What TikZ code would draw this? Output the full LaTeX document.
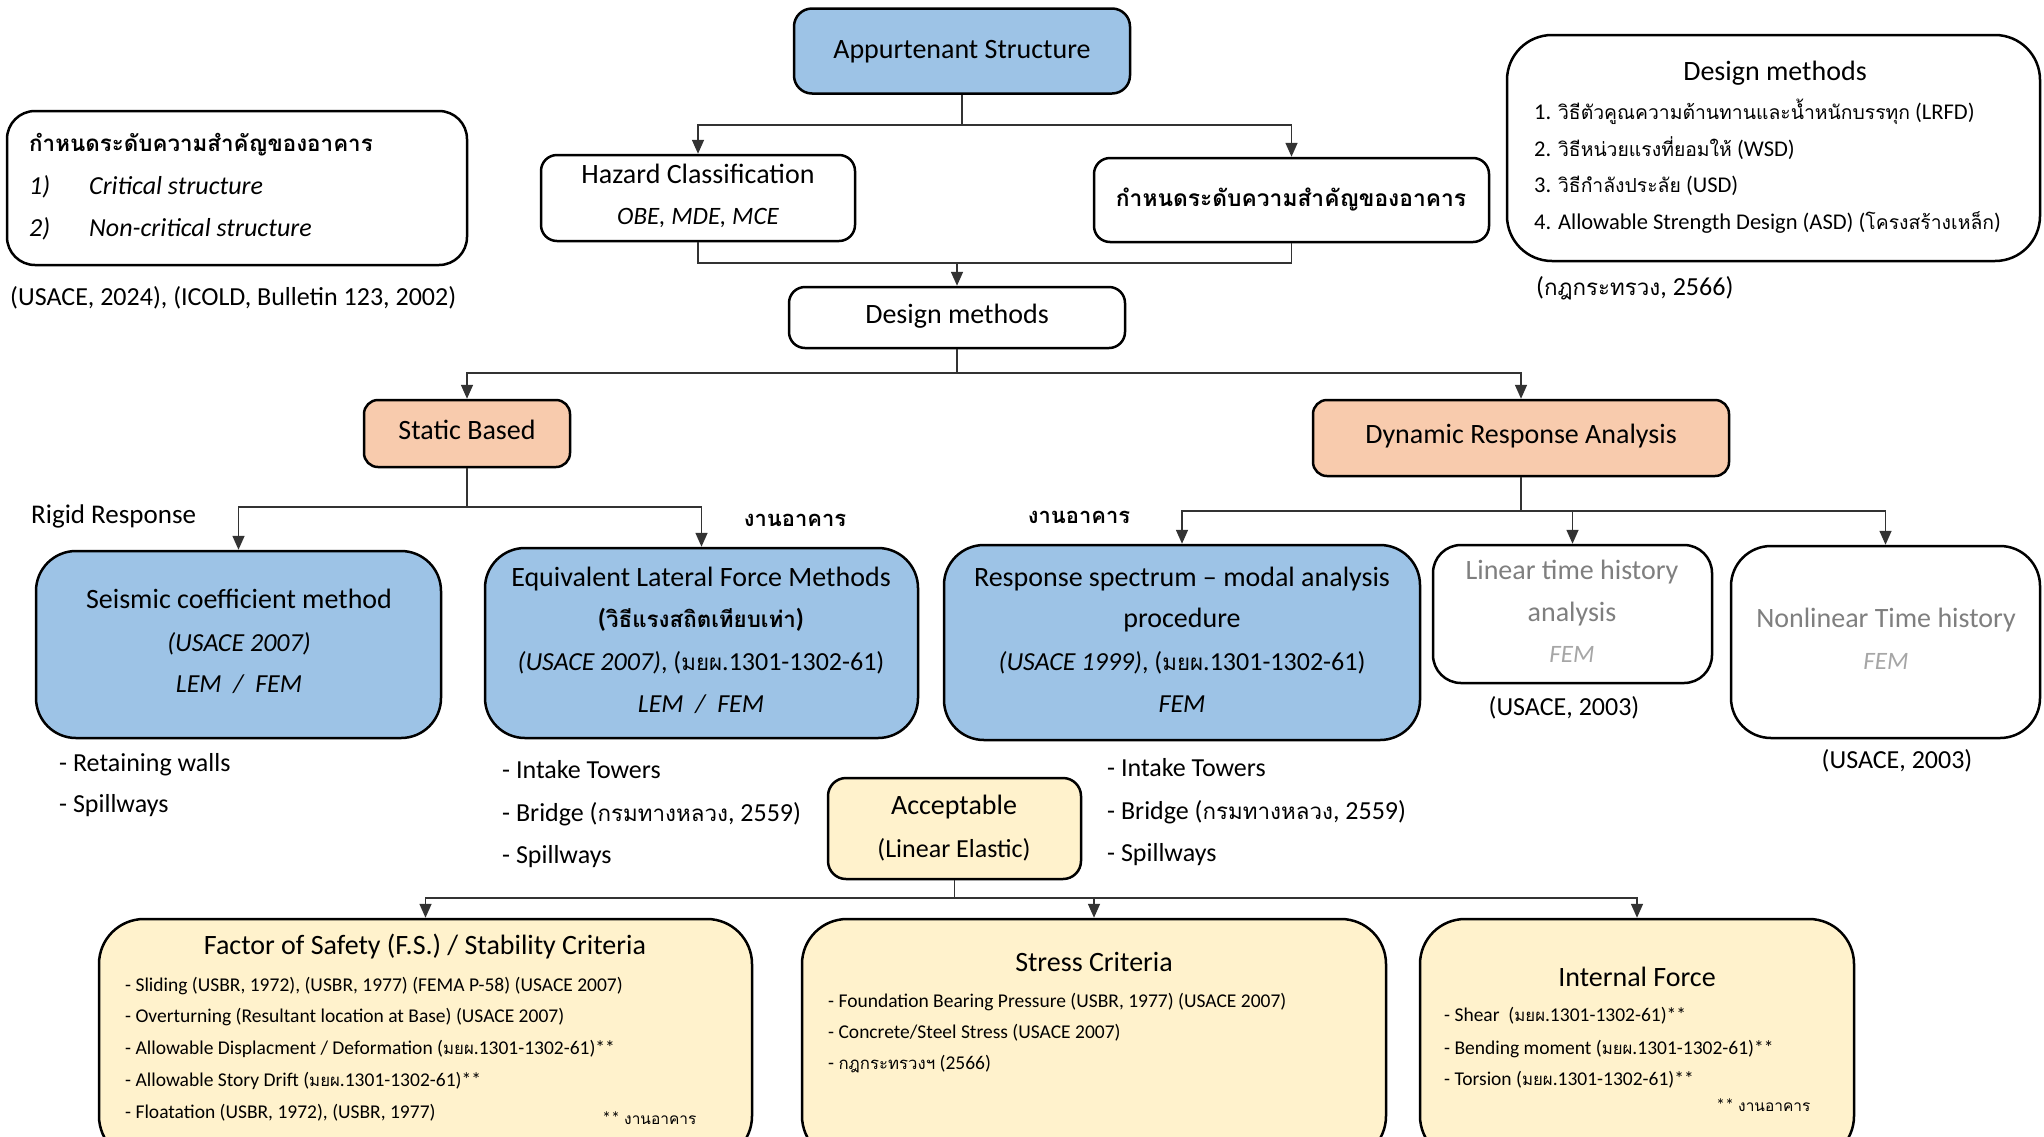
\documentclass[tikz,border=0pt]{standalone}
\usepackage{fontspec}
\setmainfont{Carlito}
\newfontfamily\thf[Script=Thai,Scale=0.86]{Loma}
\usetikzlibrary{arrows.meta}
\definecolor{bluef}{HTML}{9DC3E6}
\definecolor{peach}{HTML}{F8CBAD}
\definecolor{cream}{HTML}{FFF2CC}
\definecolor{gtext}{HTML}{7F7F7F}
\definecolor{gfem}{HTML}{A6A6A6}
\definecolor{conncol}{HTML}{333333}
\newcommand{\fs}[1]{\fontsize{#1}{#1}\selectfont}
\tikzset{
  box/.style={draw=black, line width=2.5pt, rounded corners=#1, inner sep=0pt},
  box/.default=16pt,
  conn/.style={draw=conncol, line width=1.6pt},
  arr/.style={conn, -{Triangle[length=14pt,width=12pt]}},
  tx/.style={anchor=mid, inner sep=0pt, yshift=-6pt, font=\fs{28}},
  txl/.style={anchor=mid west, inner sep=0pt, yshift=-6pt, font=\fs{26}},
  sm/.style={anchor=mid west, inner sep=0pt, yshift=-5pt, font=\fs{19.5}},
}
\begin{document}
\begin{tikzpicture}[x=1pt,y=-1pt]
\useasboundingbox (0,0) rectangle (2044,1136);
\fill[white] (0,0) rectangle (2044,1136);
\clip (0,0) rectangle (2044,1136);

% ---------- top row ----------
\node[box=18pt, fill=bluef, minimum width=336pt, minimum height=85pt] (app) at (962,51) {};
\node[tx] (appt) at (962,50) {Appurtenant Structure};

\node[box=28pt, minimum width=460pt, minimum height=154pt] (tl) at (237,188) {};
\node[txl, font=\fs{26}\bfseries\thf] (tlt) at (29,143) {กำหนดระดับความสำคัญของอาคาร};
\node[txl, font=\fs{26}\itshape] (tl1a) at (29,186) {1)};
\node[txl, font=\fs{26}\itshape] (tl1b) at (89,186) {Critical structure};
\node[txl, font=\fs{26}\itshape] (tl2a) at (29,228) {2)};
\node[txl, font=\fs{26}\itshape] (tl2b) at (89,228) {Non-critical structure};
\node[txl] (cite1) at (10,297) {(USACE, 2024), (ICOLD, Bulletin 123, 2002)};

\node[box=16pt, minimum width=314pt, minimum height=86pt] (haz) at (698,198) {};
\node[tx] (hazt) at (698,175) {Hazard Classification};
\node[tx, font=\fs{25}\itshape] (hazs) at (698,216) {OBE, MDE, MCE};

\node[box=16pt, minimum width=395pt, minimum height=84pt] (imp) at (1291.5,200) {};
\node[tx, font=\fs{26.5}\bfseries\thf] (impt) at (1291,198) {กำหนดระดับความสำคัญของอาคาร};

\node[box=16pt, minimum width=336pt, minimum height=61pt] (dm) at (957,317.5) {};
\node[tx] (dmt) at (957,315) {Design methods};

\node[box=45pt, minimum width=533pt, minimum height=226pt] (dmr) at (1773.5,148) {};
\node[tx] (dmrt) at (1775,72) {Design methods};
\node[sm, font=\fs{22.5}] (dmr1) at (1534,112) {1. {\thf วิธีตัวคูณความต้านทานและน้ำหนักบรรทุก} (LRFD)};
\node[sm, font=\fs{22.5}] (dmr2) at (1534,149) {2. {\thf วิธีหน่วยแรงที่ยอมให้} (WSD)};
\node[sm, font=\fs{22.5}] (dmr3) at (1534,185) {3. {\thf วิธีกำลังประลัย} (USD)};
\node[sm, font=\fs{22.5}] (dmr4) at (1534,222) {4. Allowable Strength Design (ASD) ({\thf โครงสร้างเหล็ก})};
\node[txl] (cite2) at (1536,287) {({\thf กฎกระทรวง}, 2566)};

% connectors top
\coordinate (j1) at (962,125);
\draw[conn] (app.south) -- (j1);
\draw[arr] (j1) -| (haz.north);
\draw[arr] (j1) -| (imp.north);
\coordinate (j2) at (957,263);
\draw[conn] (haz.south) |- (j2);
\draw[conn] (imp.south) |- (j2);
\draw[arr] (j2) -- (dm.north);

% ---------- second level ----------
\node[box=14pt, fill=peach, minimum width=206pt, minimum height=67pt] (stat) at (467,433.5) {};
\node[tx] (statt) at (467,431) {Static Based};
\node[box=14pt, fill=peach, minimum width=416pt, minimum height=76pt] (dyn) at (1521,438) {};
\node[tx] (dynt) at (1521,435) {Dynamic Response Analysis};

\coordinate (j3) at (957,373);
\draw[conn] (dm.south) -- (j3);
\draw[arr] (j3) -| (stat.north);
\draw[arr] (j3) -| (dyn.north);

% ---------- third level ----------
\node[txl, font=\fs{27}] (rigid) at (31,515) {Rigid Response};
\node[tx, font=\fs{25.5}\bfseries\thf] (bld1) at (795,518) {งานอาคาร};
\node[tx, font=\fs{25.5}\bfseries\thf] (bld2) at (1079,515) {งานอาคาร};

\node[box=40pt, fill=bluef, minimum width=405pt, minimum height=187pt] (seis) at (238.5,644.5) {};
\node[tx] (seis1) at (239,600) {Seismic coefficient method};
\node[tx, font=\fs{26}\itshape] (seis2) at (239,643) {(USACE 2007)};
\node[tx, font=\fs{26}\itshape] (seis3) at (239,684) {LEM \ / \ FEM};

\node[box=40pt, fill=bluef, minimum width=433pt, minimum height=190pt] (elf) at (701.5,643) {};
\node[tx] (elf1) at (701,578) {Equivalent Lateral Force Methods};
\node[tx, font=\fs{26}\bfseries] (elf2) at (701,619) {({\thf วิธีแรงสถิตเทียบเท่า})};
\node[tx, font=\fs{26}] (elf3) at (701,662) {\textit{(USACE 2007)}, ({\thf มยผ}.1301-1302-61)};
\node[tx, font=\fs{26}\itshape] (elf4) at (701,704) {LEM \ / \ FEM};

\node[box=40pt, fill=bluef, minimum width=476pt, minimum height=195pt] (rsp) at (1182,642.5) {};
\node[tx] (rsp1) at (1182,578) {Response spectrum -- modal analysis};
\node[tx] (rsp2) at (1182,619) {procedure};
\node[tx, font=\fs{26}] (rsp3) at (1182,662) {\textit{(USACE 1999)}, ({\thf มยผ}.1301-1302-61)};
\node[tx, font=\fs{26}\itshape] (rsp4) at (1182,704) {FEM};

\node[box=28pt, minimum width=279pt, minimum height=138pt] (lin) at (1572.5,614) {};
\node[tx, text=gtext] (lin1) at (1572,571) {Linear time history};
\node[tx, text=gtext] (lin2) at (1572,613) {analysis};
\node[tx, text=gfem, font=\fs{25}\itshape] (lin3) at (1572,654) {FEM};
\node[tx, font=\fs{26}] (cite3) at (1564,707) {(USACE, 2003)};

\node[box=40pt, minimum width=309pt, minimum height=192pt] (nlin) at (1885.5,642) {};
\node[tx, text=gtext] (nlin1) at (1886,619) {Nonlinear Time history};
\node[tx, text=gfem, font=\fs{25}\itshape] (nlin2) at (1886,661) {FEM};
\node[tx, font=\fs{26}] (cite4) at (1897,760) {(USACE, 2003)};

\coordinate (j4) at (467,507);
\draw[conn] (stat.south) -- (j4);
\draw[arr] (j4) -| (seis.north);
\draw[arr] (j4) -| (elf.north);
\coordinate (j5) at (1521,511);
\draw[conn] (dyn.south) -- (j5);
\draw[arr] (j5) -| (rsp.north);
\draw[arr] (j5) -| (lin.north);
\draw[arr] (j5) -| (nlin.north);

% lists
\node[txl] (la1) at (59,763) {- Retaining walls};
\node[txl] (la2) at (59,804) {- Spillways};
\node[txl] (lb1) at (502,770) {- Intake Towers};
\node[txl] (lb2) at (502,813) {- Bridge ({\thf กรมทางหลวง}, 2559)};
\node[txl] (lb3) at (502,855) {- Spillways};
\node[txl] (lc1) at (1107,768) {- Intake Towers};
\node[txl] (lc2) at (1107,811) {- Bridge ({\thf กรมทางหลวง}, 2559)};
\node[txl] (lc3) at (1107,853) {- Spillways};

% ---------- acceptable ----------
\node[box=18pt, fill=cream, minimum width=253pt, minimum height=101pt] (acc) at (954.5,828.5) {};
\node[tx] (acc1) at (954,806) {Acceptable};
\node[tx, font=\fs{26}] (acc2) at (954,849) {(Linear Elastic)};

\node[box=45pt, fill=cream, minimum width=653pt, minimum height=242pt] (fos) at (425.5,1040) {};
\node[tx] (fost) at (425,946) {Factor of Safety (F.S.) / Stability Criteria};
\node[sm] (fos1) at (125,984) {- Sliding (USBR, 1972), (USBR, 1977) (FEMA P-58) (USACE 2007)};
\node[sm] (fos2) at (125,1015) {- Overturning (Resultant location at Base) (USACE 2007)};
\node[sm] (fos3) at (125,1047) {- Allowable Displacment / Deformation ({\thf มยผ}.1301-1302-61)**};
\node[sm] (fos4) at (125,1079) {- Allowable Story Drift ({\thf มยผ}.1301-1302-61)**};
\node[sm] (fos5) at (125,1111) {- Floatation (USBR, 1972), (USBR, 1977)};
\node[sm, font=\fs{18}] (fosn) at (602,1117) {** {\thf งานอาคาร}};

\node[box=45pt, fill=cream, minimum width=584pt, minimum height=242pt] (str) at (1094,1040) {};
\node[tx] (strt) at (1094,963) {Stress Criteria};
\node[sm] (str1) at (828,1000) {- Foundation Bearing Pressure (USBR, 1977) (USACE 2007)};
\node[sm] (str2) at (828,1031) {- Concrete/Steel Stress (USACE 2007)};
\node[sm] (str3) at (828,1062) {- {\thf กฎกระทรวงฯ} (2566)};

\node[box=45pt, fill=cream, minimum width=434pt, minimum height=242pt] (inf) at (1637,1040) {};
\node[tx] (inft) at (1637,978) {Internal Force};
\node[sm] (inf1) at (1444,1014) {- Shear \ ({\thf มยผ}.1301-1302-61)**};
\node[sm] (inf2) at (1444,1047) {- Bending moment ({\thf มยผ}.1301-1302-61)**};
\node[sm] (inf3) at (1444,1078) {- Torsion ({\thf มยผ}.1301-1302-61)**};
\node[sm, font=\fs{18}] (infn) at (1716,1104) {** {\thf งานอาคาร}};

\coordinate (j6) at (954.5,898);
\draw[conn] (acc.south) -- (j6);
\draw[arr] (j6) -| (fos.north);
\draw[arr] (j6) -| (str.north);
\draw[arr] (j6) -| (inf.north);
\end{tikzpicture}
\end{document}
